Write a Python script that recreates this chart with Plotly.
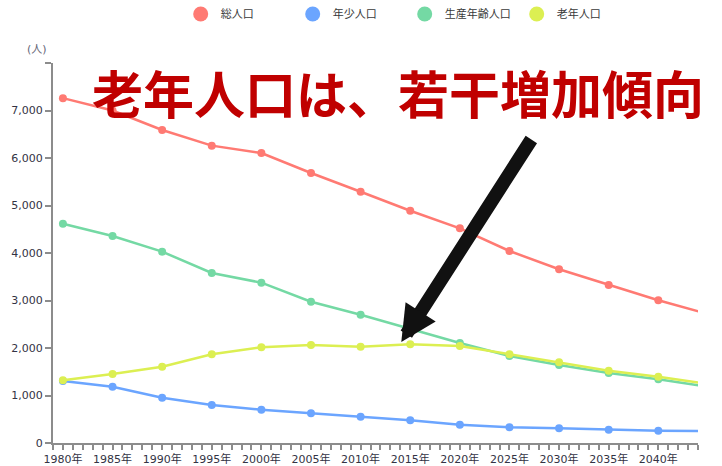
import plotly.graph_objects as go

years = [1980, 1985, 1990, 1995, 2000, 2005, 2010, 2015, 2020, 2025, 2030, 2035, 2040, 2045]
year_labels = [f"{y}年" for y in years]

total = [7260, 7000, 6590, 6260, 6105, 5684, 5290, 4890, 4520, 4042, 3657, 3326, 3005, 2715]
young = [1305, 1186, 954, 800, 702, 625, 554, 478, 385, 331, 309, 281, 259, 250]
working = [4617, 4358, 4028, 3579, 3375, 2975, 2701, 2400, 2105, 1831, 1642, 1474, 1341, 1187]
elderly = [1320, 1453, 1607, 1867, 2015, 2063, 2028, 2077, 2042, 1867, 1699, 1522, 1396, 1244]

series_names = ["総人口", "年少人口", "生産年齢人口", "老年人口"]
series_values = [total, young, working, elderly]
colors = ["#FF7A73", "#6BA5FF", "#74D9A4", "#DCEF52"]

y_tick_vals = [0, 1000, 2000, 3000, 4000, 5000, 6000, 7000, 8000]
y_tick_text = ["0", "1,000", "2,000", "3,000", "4,000", "5,000", "6,000", "7,000", ""]

callout_text = "老年人口は、若干増加傾向"
arrow_year, arrow_value = 2014.1, 2126
unit_label = "(人)"

font_family = "DejaVu Sans, Noto Sans CJK JP, sans-serif"
axis_color = "#8c8c8c"

fig = go.Figure()
for name, vals, col in zip(series_names, series_values, colors):
    fig.add_trace(go.Scatter(
        x=years, y=vals, mode="lines+markers", name=name,
        line=dict(color=col, width=2.5),
        marker=dict(color=col, size=8),
        showlegend=False, hoverinfo="skip",
    ))
# legend entries (circle only)
for name, col in zip(series_names, colors):
    fig.add_trace(go.Scatter(
        x=[None], y=[None], mode="markers", name=name,
        marker=dict(color=col, size=15), showlegend=True,
    ))

fig.update_layout(
    width=722, height=466,
    margin=dict(l=53, r=24, t=63, b=23, autoexpand=False),
    paper_bgcolor="white", plot_bgcolor="white",
    font=dict(family=font_family, size=11, color="#333344"),
    legend=dict(
        orientation="h", x=0.198, xanchor="left", y=1.129, yanchor="middle",
        entrywidth=67, entrywidthmode="pixels",
        font=dict(size=11, color="#3a3a3a"),
        itemsizing="trace",
    ),
    xaxis=dict(
        range=[1979, 2044], tickmode="array", tickvals=years, ticktext=year_labels,
        showgrid=False, zeroline=False, showline=True, linecolor=axis_color, linewidth=2,
        ticks="outside", ticklen=5, tickwidth=1.5, tickcolor=axis_color,
        minor=dict(dtick=1, tick0=1979, ticks="outside", ticklen=5, tickwidth=1.5,
                   tickcolor=axis_color, showgrid=False),
        tickfont=dict(size=11, color="#333344"),
    ),
    yaxis=dict(
        range=[0, 8000], tickmode="array", tickvals=y_tick_vals, ticktext=y_tick_text,
        showgrid=False, zeroline=False, showline=True, linecolor=axis_color, linewidth=2,
        ticks="outside", ticklen=6, tickwidth=1.5, tickcolor=axis_color,
        tickfont=dict(size=11, color="#333344"),
    ),
    showlegend=True,
)

fig.add_annotation(
    xref="paper", yref="paper", x=-0.025, y=1.036, text=unit_label, showarrow=False,
    font=dict(size=11, color="#666677"), xanchor="center", yanchor="middle",
)
fig.add_annotation(
    xref="x", yref="y", x=arrow_year, y=arrow_value, text="",
    showarrow=True, arrowhead=2, arrowwidth=13.5, arrowsize=0.53,
    arrowcolor="#111111", ax=131, ay=-204, standoff=0,
)
fig.add_annotation(
    xref="paper", yref="paper", x=0.535, y=0.923, text=callout_text, showarrow=False,
    font=dict(size=51, color="#C00000", family="Noto Sans CJK JP", weight="bold"),
    xanchor="center", yanchor="middle",
)

fig.write_html("out.html", config={"displayModeBar": False},
               post_script="document.body.style.margin='0';")
